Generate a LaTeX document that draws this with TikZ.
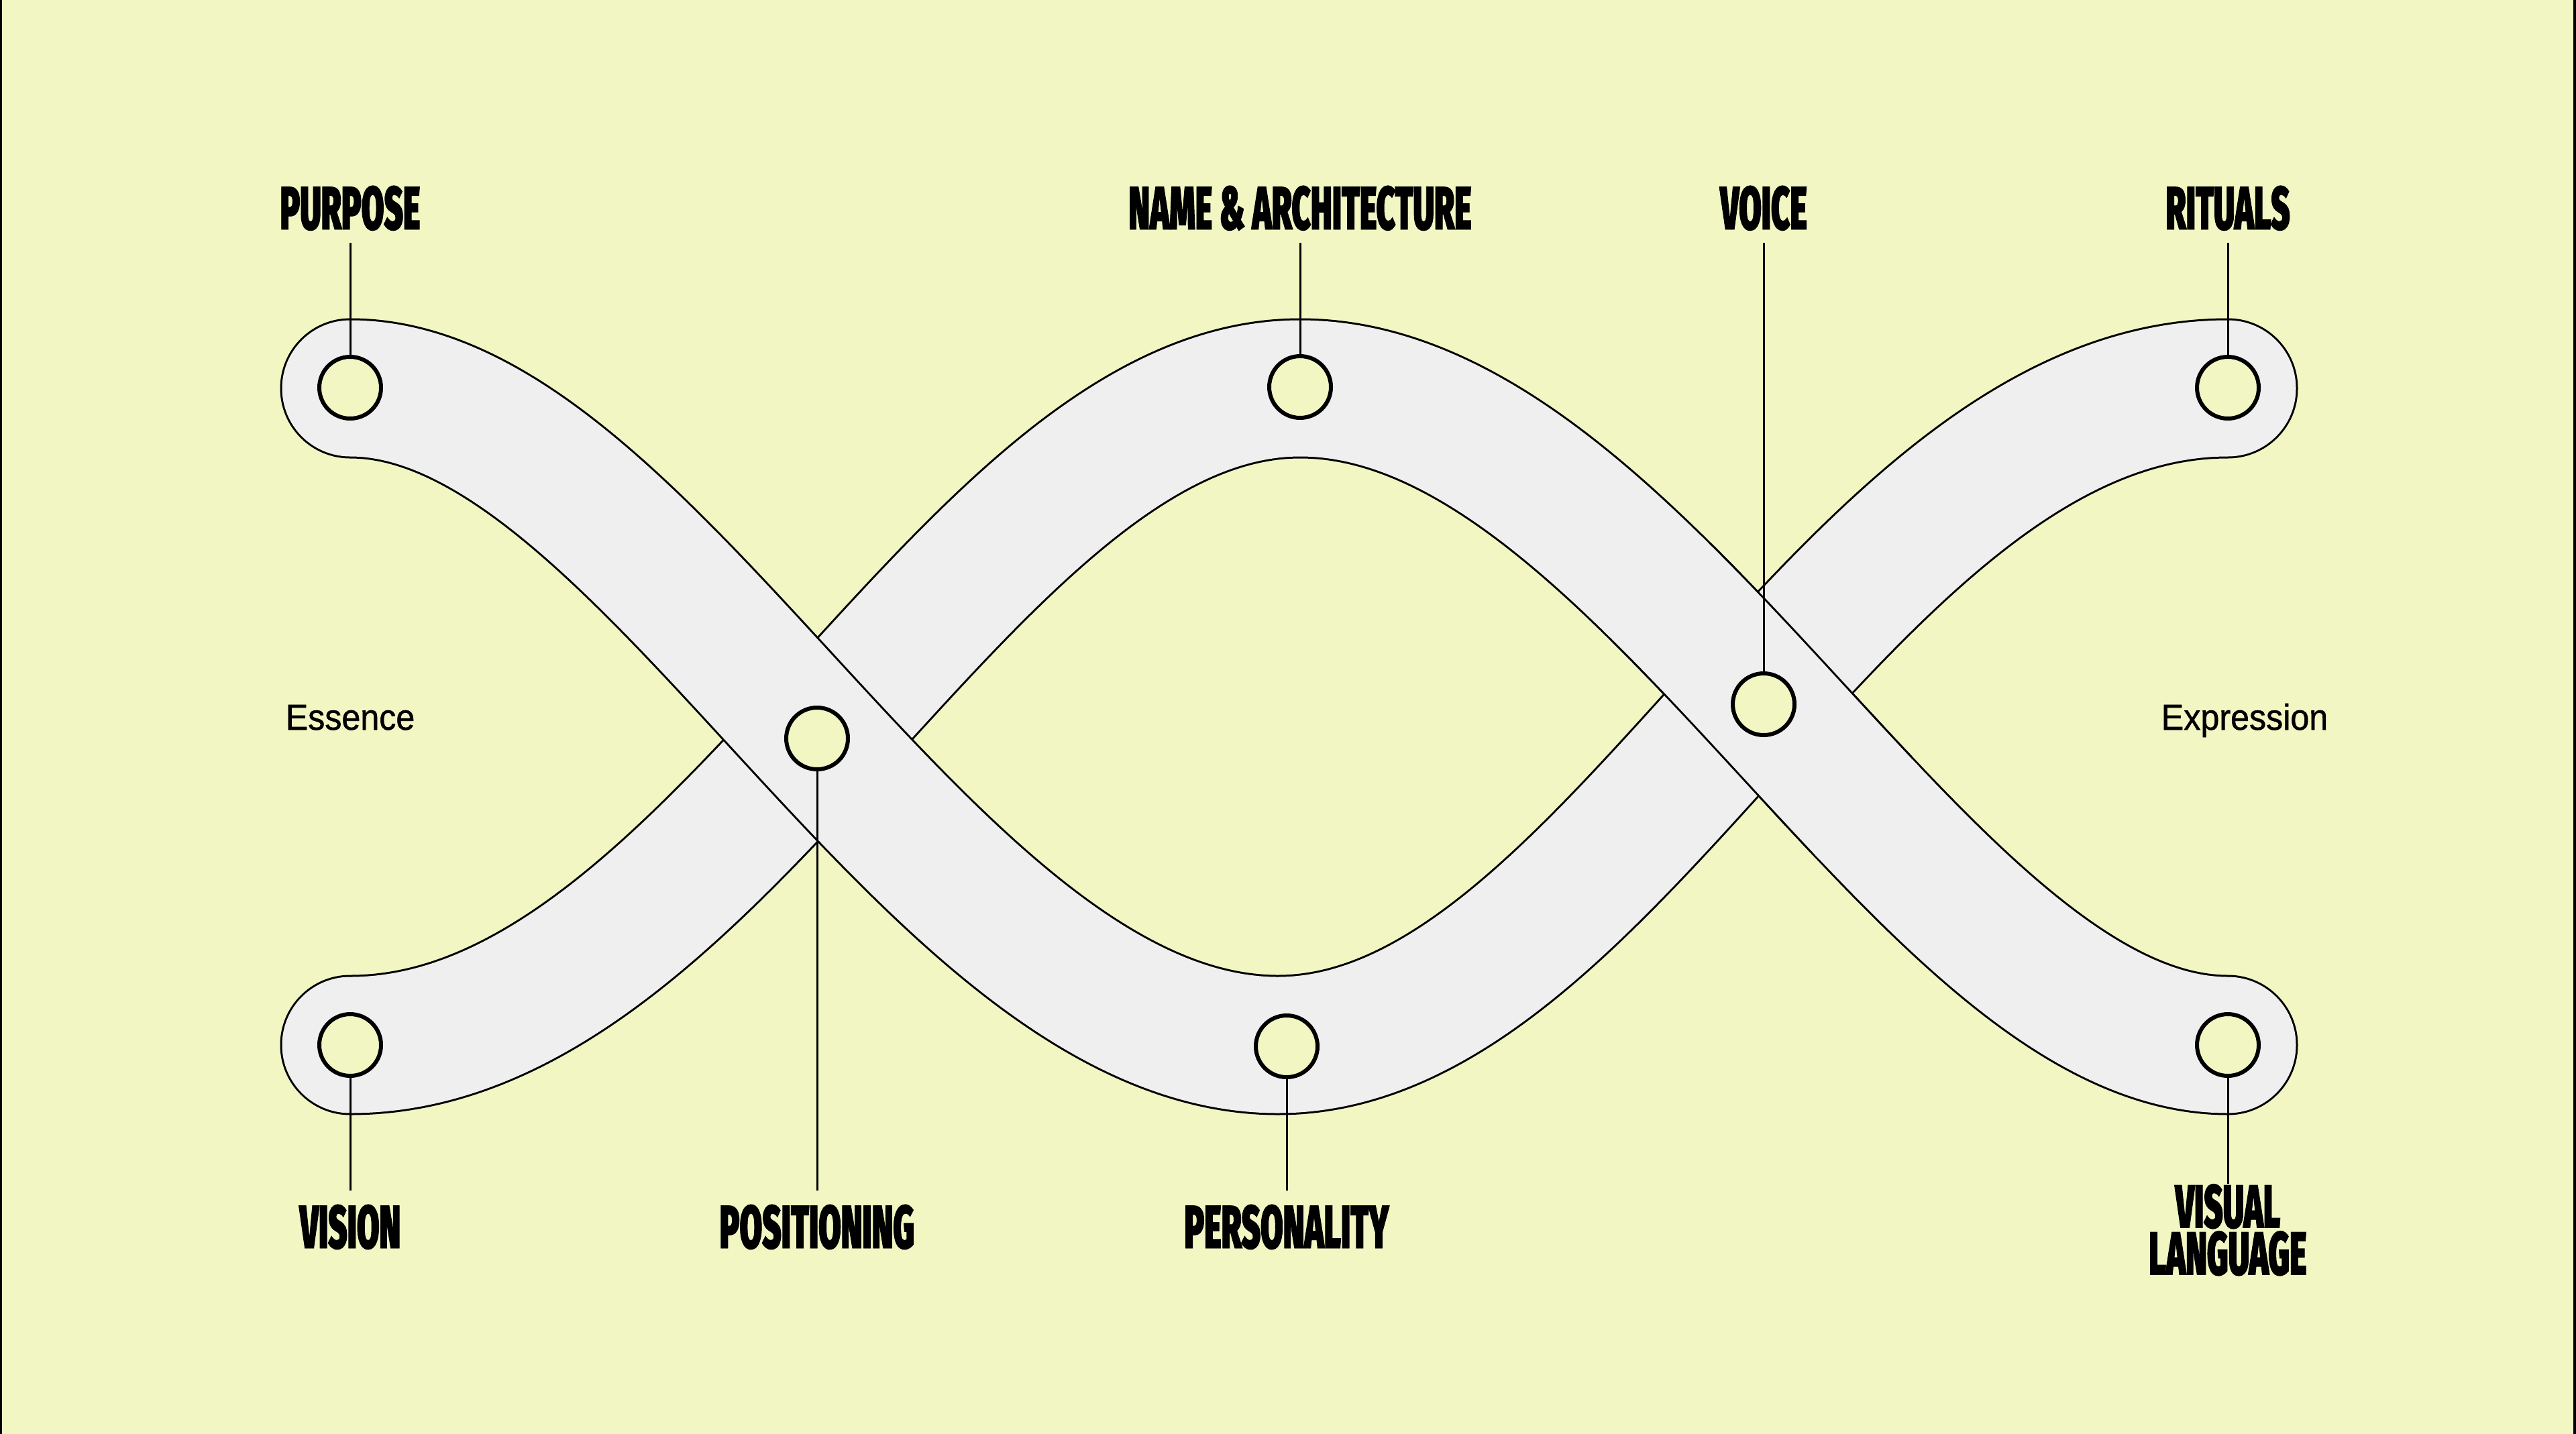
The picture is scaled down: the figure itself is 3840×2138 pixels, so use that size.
\documentclass[tikz,border=0pt]{standalone}
\usepackage{fontspec}
\setmainfont{Liberation Sans}
\IfFontExistsTF{Fira Sans Black}
 {\newfontfamily\labfontraw{Fira Sans Black}[FakeStretch=0.535,FakeBold=1]\newcommand\labfont{\labfontraw}}
 {\newfontfamily\labfontraw{Liberation Sans}[FakeStretch=0.535,FakeBold=2]\newcommand\labfont{\labfontraw\bfseries}}
\newfontfamily\smallfont{Liberation Sans}[FakeStretch=0.93,FakeBold=1]
\definecolor{bgc}{RGB}{242,246,195}
\definecolor{bandc}{RGB}{239,239,239}
\tikzset{
  bandout/.style={line width=209pt, draw=black, line cap=round},
  bandin/.style={line width=203pt, draw=bandc, line cap=round},
  pathA/.style={insert path={(522,579) .. controls (968,579) and (1388,1558) .. (1905,1558) .. controls (2404,1558) and (2759,579) .. (3321,579)}},
  pathB/.style={insert path={(522,1558) .. controls (1072,1558) and (1444,579) .. (1938,579) .. controls (2450,579) and (2872,1558) .. (3321,1558)}},
  dot/.style={circle, draw=black, fill=bgc, line width=6pt, minimum size=92pt, inner sep=0pt},
  lbl/.style={font={\labfont\fontsize{91}{70}\selectfont}, inner sep=0pt, anchor=base, align=center},
  side/.style={font={\smallfont\fontsize{54}{60}\selectfont}, inner sep=0pt, anchor=base},
  conn/.style={draw=black, line width=3pt},
}
\begin{document}
\begin{tikzpicture}[x=1pt,y=-1pt]
\useasboundingbox (0,0) rectangle (3840,2138);
\fill[bgc] (0,0) rectangle (3840,2138);
\fill[black] (0,0) rectangle (3,2138);
\fill[black] (3836,0) rectangle (3840,2138);
% bands: band B first, band A over it (crossing 1)
\draw[bandout, pathB];
\draw[bandin, pathB];
\draw[bandout, pathA];
\draw[bandin, pathA];
% band B back on top at crossing 2
\begin{scope}
  \clip (2400,810) rectangle (2850,1270);
  \draw[bandout, pathB];
\end{scope}
\begin{scope}
  \clip (2390,800) rectangle (2860,1280);
  \draw[bandin, pathB];
\end{scope}
% circles
\node[dot] (cPur) at (522,578) {};
\node[dot] (cVis) at (522,1558) {};
\node[dot] (cPos) at (1218,1101) {};
\node[dot] (cName) at (1938,577) {};
\node[dot] (cPers) at (1918,1560) {};
\node[dot] (cVoice) at (2629,1050) {};
\node[dot] (cRit) at (3321,578) {};
\node[dot] (cVL) at (3321,1558) {};
% labels
\node[lbl] (lPur) at (522,342) {PURPOSE};
\node[lbl] (lName) at (1938,342) {NAME \& ARCHITECTURE};
\node[lbl] (lVoice) at (2629,342) {VOICE};
\node[lbl] (lRit) at (3321,342) {RITUALS};
\node[lbl] (lVis) at (522,1861) {VISION};
\node[lbl] (lPos) at (1218,1861) {POSITIONING};
\node[lbl] (lPers) at (1918,1861) {PERSONALITY};
\node[lbl, anchor=north] (lVL) at (3321,1765) {VISUAL\\LANGUAGE};
\node[side] (ess) at (522,1088) {Essence};
\node[side] (expr) at (3346,1088) {Expression};
% connectors
\draw[conn, shorten <=20pt] (lPur.base) -- (cPur.north);
\draw[conn, shorten <=20pt] (lName.base) -- (cName.north);
\draw[conn, shorten <=20pt] (lVoice.base) -- (cVoice.north);
\draw[conn, shorten <=20pt] (lRit.base) -- (cRit.north);
\draw[conn, shorten >=21pt] (cVis.south) -- (lVis.north);
\draw[conn, shorten >=21pt] (cPos.south) -- (lPos.north);
\draw[conn, shorten >=21pt] (cPers.south) -- (lPers.north);
\draw[conn] (cVL.south) -- (lVL.north);
\end{tikzpicture}
\end{document}
